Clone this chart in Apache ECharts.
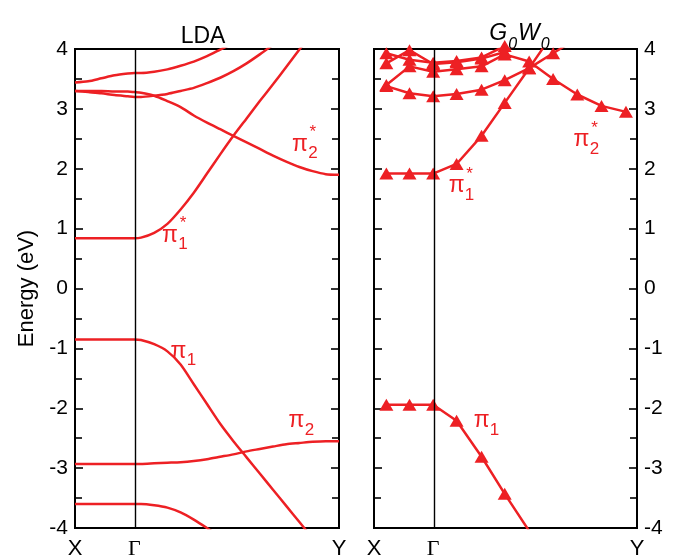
<!DOCTYPE html>
<html>
<head>
<meta charset="utf-8">
<script src="https://cdn.jsdelivr.net/npm/echarts@6/dist/echarts.min.js"></script>
<style>
  html, body { margin: 0; padding: 0; background: #fff; }
  #main { width: 678px; height: 560px; }
</style>
</head>
<body>
<div id="main"></div>
<script>
// High-symmetry points along the k-path (fraction of path length)
const kTickPos = [0, 0.225, 1];
const kTickLabels = ['X', 'Γ', 'Y'];

// LDA bands, sampled along the path
const ldaK = [0, 0.05, 0.1, 0.15, 0.2, 0.225, 0.25, 0.3, 0.35, 0.4, 0.45, 0.5, 0.55,
              0.6, 0.65, 0.7, 0.75, 0.8, 0.85, 0.9, 0.95, 1.0];
const ldaPi1Star = [0.84, 0.84, 0.84, 0.84, 0.84, 0.84, 0.85, 0.93, 1.08, 1.32, 1.60, 1.92,
                    2.24, 2.55, 2.84, 3.13, 3.41, 3.70, 3.99, 4.28];
const ldaBandA = [3.44, 3.46, 3.51, 3.56, 3.59, 3.60, 3.60, 3.62, 3.66, 3.72, 3.79, 3.88,
                  3.99, 4.10];
const ldaBandB = [3.30, 3.28, 3.26, 3.23, 3.21, 3.20, 3.20, 3.22, 3.25, 3.30, 3.35, 3.43,
                  3.52, 3.63, 3.76, 3.91, 4.07];
const ldaPi2Star = [3.30, 3.30, 3.30, 3.29, 3.29, 3.28, 3.27, 3.22, 3.13, 3.03, 2.89, 2.77,
                    2.66, 2.55, 2.44, 2.33, 2.22, 2.12, 2.03, 1.96, 1.91, 1.90];
const ldaPi1 = [-0.85, -0.85, -0.85, -0.85, -0.85, -0.85, -0.86, -0.93, -1.05, -1.27, -1.60,
                -1.93, -2.26, -2.55, -2.82, -3.09, -3.36, -3.63, -3.90, -4.17];
const ldaPi2 = [-2.93, -2.93, -2.93, -2.93, -2.93, -2.93, -2.93, -2.92, -2.91, -2.90, -2.88,
                -2.85, -2.81, -2.77, -2.72, -2.68, -2.64, -2.60, -2.58, -2.56, -2.55, -2.55];
const ldaBandLow = [-3.60, -3.60, -3.60, -3.60, -3.60, -3.60, -3.60, -3.62, -3.66, -3.74,
                    -3.86, -4.00, -4.15];

// G0W0 quasiparticle energies at the computed k-points
const gwK = [0.047, 0.135, 0.225, 0.314, 0.409, 0.497, 0.590, 0.681, 0.773, 0.865, 0.958];
const gwPi1 = [-1.94, -1.94, -1.94, -2.21, -2.81, -3.43, -4.05];
const gwPi1Star = [1.92, 1.92, 1.92, 2.08, 2.55, 3.10, 3.68, 4.26];
const gwBandB = [3.38, 3.26, 3.21, 3.25, 3.32, 3.48, 3.68, 3.93, 4.18];
const gwPi2Star = [3.40, 3.71, 3.62, 3.66, 3.71, 3.91, 3.79, 3.50, 3.24, 3.05, 2.95];
const gwBandC = [3.93, 3.82, 3.77, 3.80, 3.86, 4.05, 4.30];
const gwBandD = [3.76, 3.98, 3.75, 3.78, 3.84, 3.95, 4.20];

// Band labels: [k, energy, subscript, has star]
const ldaLabels = [
  [0.36, 0.89, '1', true],
  [0.852, 2.40, '2', true],
  [0.392, -1.05, '1', false],
  [0.839, -2.21, '2', false]
];
const gwLabels = [
  [0.314, 1.71, '1', true],
  [0.789, 2.48, '2', true],
  [0.409, -2.21, '1', false]
];

const RED = '#ed2024';
const FONT = '"Liberation Sans", Arial, Helvetica, sans-serif';

const pairs = (ks, es) => es.map((e, i) => [ks[i], e]);

function bandLine(ks, es, gi, withSmooth) {
  return {
    type: 'line',
    xAxisIndex: gi, yAxisIndex: gi * 2,
    data: pairs(ks, es),
    smooth: withSmooth ? 0.25 : false,
    showSymbol: false,
    clip: true,
    lineStyle: { color: RED, width: 2.5 },
    silent: true,
    z: 3
  };
}

function markerSeries(ks, bands, gi) {
  const pts = [];
  bands.forEach(es => es.forEach((e, i) => {
    if (e >= -4.02 && e <= 4.1) pts.push([ks[i], e]);
  }));
  return {
    type: 'scatter',
    xAxisIndex: gi, yAxisIndex: gi * 2,
    data: pts,
    symbol: 'triangle',
    symbolSize: [14, 12],
    itemStyle: { color: RED, opacity: 1 },
    clip: false,
    silent: true,
    z: 4
  };
}

function labelSeries(labels, gi) {
  const items = [];
  labels.forEach(([k, e, sub, star]) => {
    items.push({ value: [k, e], label: { formatter: 'π', fontSize: 23, offset: [0, 0] } });
    items.push({ value: [k, e], label: { formatter: sub, fontSize: 17, offset: [13, 9] } });
    if (star) items.push({ value: [k, e], label: { formatter: '*', fontSize: 17, offset: [13, -12] } });
  });
  return {
    type: 'scatter',
    xAxisIndex: gi, yAxisIndex: gi * 2,
    data: items,
    symbolSize: 0,
    clip: false,
    silent: true,
    itemStyle: { opacity: 1 },
    label: {
      show: true, position: 'inside', color: RED, fontFamily: FONT,
      align: 'center', verticalAlign: 'middle', opacity: 1
    },
    z: 5
  };
}

function gammaLine(gi) {
  return {
    type: 'line',
    xAxisIndex: gi, yAxisIndex: gi * 2,
    data: [],
    markLine: {
      silent: true, symbol: 'none', label: { show: false },
      lineStyle: { color: '#000', width: 1.4, type: 'solid' },
      data: [{ xAxis: kTickPos[1] }],
      animation: false
    },
    z: 2
  };
}

function xAxisFor(gi) {
  return {
    type: 'value', gridIndex: gi, min: 0, max: 1,
    axisLine: { show: false }, axisTick: { show: false }, splitLine: { show: false },
    axisLabel: {
      customValues: kTickPos,
      margin: 10,
      fontSize: 22, color: '#000', fontFamily: FONT,
      formatter: v => {
        const i = kTickPos.findIndex(p => Math.abs(p - v) < 1e-6);
        const t = i >= 0 ? kTickLabels[i] : '';
        return t === 'Γ' ? '{g|Γ}' : t;
      },
      rich: { g: { fontFamily: '"Liberation Serif", "Times New Roman", serif', fontSize: 22, color: '#000' } }
    }
  };
}

function yAxisFor(gi, position, showLabels, name) {
  return {
    type: 'value', gridIndex: gi, position,
    min: -4, max: 4, interval: 1,
    axisLine: { show: false },
    splitLine: { show: false },
    axisTick: { show: true, inside: true, length: 8, lineStyle: { color: '#000', width: 1.6 } },
    minorTick: { show: true, splitNumber: 2, length: 7, lineStyle: { color: '#000', width: 1.6 } },
    axisLabel: {
      show: showLabels, fontSize: 21, color: '#000', fontFamily: FONT, margin: 7,
      formatter: v => String(v)
    },
    name: name || '',
    nameLocation: 'middle',
    nameGap: 37,
    nameTextStyle: { fontSize: 22, color: '#000', fontFamily: FONT }
  };
}

const chart = echarts.init(document.getElementById('main'), null, { renderer: 'canvas' });

chart.setOption({
  animation: false,
  backgroundColor: '#fff',
  title: [
    { text: 'LDA', left: 198, top: 20, textAlign: 'center',
      textStyle: { fontSize: 23, fontWeight: 'normal', color: '#000', fontFamily: FONT } },
    { text: '{m|G}{s|0}{m|W}{s|0}', left: 515, top: 17, textAlign: 'center',
      textStyle: {
        fontFamily: FONT, fontWeight: 'normal',
        rich: {
          m: { fontSize: 23, fontStyle: 'italic', fontWeight: 'normal', color: '#000', fontFamily: FONT, verticalAlign: 'top', lineHeight: 26 },
          s: { fontSize: 16, fontStyle: 'italic', fontWeight: 'normal', color: '#000', fontFamily: FONT, verticalAlign: 'bottom', lineHeight: 26, padding: [0, 1, -5, 1] }
        }
      } }
  ],
  grid: [
    { left: 75, top: 49, width: 264, height: 483, show: true, borderColor: '#000', borderWidth: 2, backgroundColor: 'transparent' },
    { left: 374, top: 49, width: 263, height: 483, show: true, borderColor: '#000', borderWidth: 2, backgroundColor: 'transparent' }
  ],
  xAxis: [xAxisFor(0), xAxisFor(1)],
  yAxis: [
    yAxisFor(0, 'left', true, 'Energy (eV)'),
    yAxisFor(0, 'right', false),
    yAxisFor(1, 'left', false),
    yAxisFor(1, 'right', true)
  ],
  series: [
    gammaLine(0),
    gammaLine(1),
    bandLine(ldaK, ldaPi1Star, 0, true),
    bandLine(ldaK, ldaBandA, 0, true),
    bandLine(ldaK, ldaBandB, 0, true),
    bandLine(ldaK, ldaPi2Star, 0, true),
    bandLine(ldaK, ldaPi1, 0, true),
    bandLine(ldaK, ldaPi2, 0, true),
    bandLine(ldaK, ldaBandLow, 0, true),
    bandLine(gwK, gwPi1, 1, false),
    bandLine(gwK, gwPi1Star, 1, false),
    bandLine(gwK, gwBandB, 1, false),
    bandLine(gwK, gwPi2Star, 1, false),
    bandLine(gwK, gwBandC, 1, false),
    bandLine(gwK, gwBandD, 1, false),
    markerSeries(gwK, [gwPi1, gwPi1Star, gwBandB, gwPi2Star, gwBandC, gwBandD], 1),
    labelSeries(ldaLabels, 0),
    labelSeries(gwLabels, 1)
  ]
});
</script>
</body>
</html>
